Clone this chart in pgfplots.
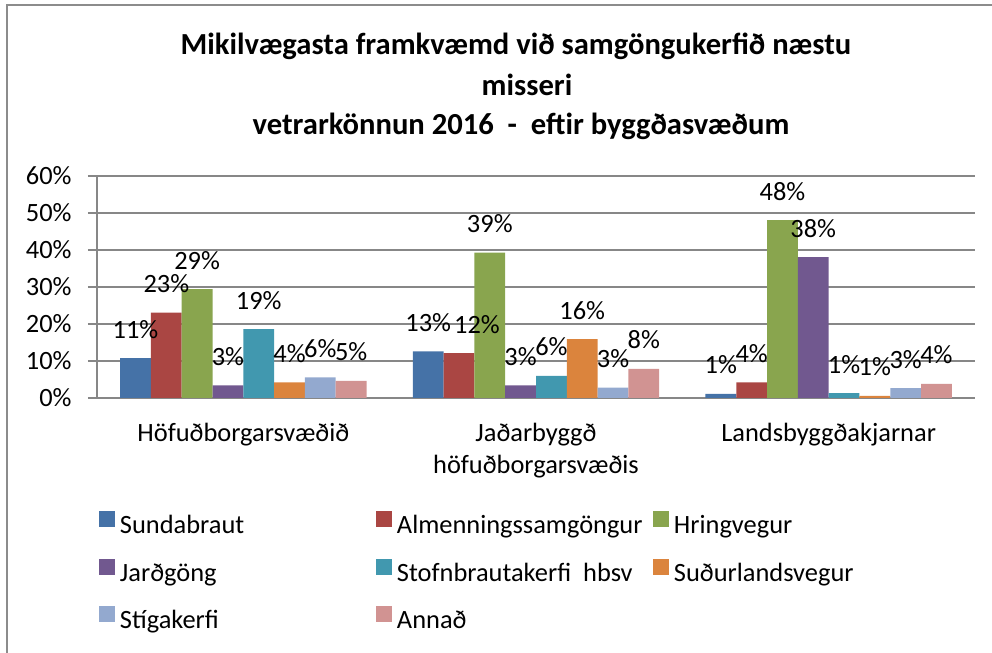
\documentclass[border=0pt]{standalone}
\usepackage{fontspec}
\setmainfont{Carlito}
\usepackage{pgfplots}
\usepackage{pgfplotstable}
\pgfplotsset{compat=1.18}

\definecolor{cSund}{HTML}{4572A7}
\definecolor{cAlm}{HTML}{AA4643}
\definecolor{cHring}{HTML}{89A54E}
\definecolor{cJard}{HTML}{71588F}
\definecolor{cStofn}{HTML}{4198AF}
\definecolor{cSud}{HTML}{DB843D}
\definecolor{cStig}{HTML}{93A9CF}
\definecolor{cAnn}{HTML}{D19392}
\definecolor{gridgray}{HTML}{878787}
\definecolor{framegray}{HTML}{8C8C8C}

% heights in percent
\pgfplotstableread{
x Sund Alm Hring Jard Stofn Sud Stig Annad
0 10.8 23.1 29.4 3.4 18.6 4.2 5.6 4.6
1 12.6 12.1 39.3 3.4 6.0 15.9 2.8 7.9
2 1.1 4.2 48.1 38.1 1.3 0.6 2.7 3.8
}\datatable

\newcommand{\lbl}[1]{\makebox[128pt][l]{#1}}
\newcommand{\bodyfont}{\fontsize{13.2}{16}\selectfont}

\begin{document}
\begin{tikzpicture}
% 1px of the reference = 0.5pt; page 496pt x 326.5pt
\path[use as bounding box] (0pt,0pt) rectangle (496pt,326.5pt);
\draw[framegray,line width=0.8pt] (3.5pt,0pt) -- (3.5pt,324pt) -- (496pt,324pt);

\node[font=\bfseries\fontsize{15.3}{18}\selectfont,anchor=base] at (258pt,299pt) {Mikilvægasta framkvæmd við samgöngukerfið næstu};
\node[font=\bfseries\fontsize{15.3}{18}\selectfont,anchor=base] at (263.5pt,278.5pt) {misseri};
\node[font=\bfseries\fontsize{15.3}{18}\selectfont,anchor=base] at (260.5pt,259pt) {vetrarkönnun 2016\ \ -\ \ eftir byggðasvæðum};

\begin{axis}[
  at={(48.5pt,127.5pt)}, anchor=south west,
  scale only axis, width=439pt, height=111pt,
  ybar=0pt, bar width=15.4pt,
  xmin=-0.5, xmax=2.5, ymin=0, ymax=60,
  axis x line*=bottom, axis y line*=left,
  axis line style={gridgray,line width=0.8pt},
  font=\bodyfont,
  /pgf/number format/assume math mode=true,
  ytick={0,10,...,60},
  yticklabel={\pgfmathprintnumber{\tick}\%},
  yticklabel style={inner sep=0pt},
  yticklabel shift=8pt,
  ymajorgrids, grid style={gridgray,line width=0.8pt},
  tick align=outside, major tick length=4.5pt,
  ytick style={gridgray,line width=0.8pt},
  xtick={0,1,2},
  xticklabels={Höfuðborgarsvæðið,{Jaðarbyggð\\höfuðborgarsvæðis},Landsbyggðakjarnar},
  xtick style={draw=none},
  xticklabel style={align=center,anchor=north,inner sep=0pt,font=\fontsize{13.2}{16}\selectfont},
  xticklabel shift=8pt,
  extra x ticks={-0.5,0.5,1.5,2.5},
  extra x tick labels={},
  extra x tick style={grid=none,tick align=outside,major tick length=4.5pt,
    tick style={draw=gridgray,line width=0.8pt}},
  nodes near coords={\pgfmathprintnumber[fixed,precision=0]{\pgfplotspointmeta}\%},
  every node near coord/.append style={anchor=base,yshift=10pt,inner sep=0pt,
    font=\bodyfont,text=black},
  legend columns=3,
  legend image code/.code={\fill[#1,draw=none] (0pt,0.3pt) rectangle (8pt,8.3pt);},
  legend style={at={(0.00228,-0.509)},anchor=north west,draw=none,fill=none,
    inner sep=0pt,outer sep=0pt,row sep=9.5pt,
    nodes={inner sep=0pt,text height=9pt,text depth=3pt,font=\bodyfont},
    /tikz/every odd column/.append style={column sep=2.5pt},
    /tikz/every even column/.append style={column sep=0pt}},
  legend cell align=left,
]
\addplot[fill=cSund,draw=none] table[x=x,y=Sund]{\datatable};
\addlegendentry{\lbl{Sundabraut}}
\addplot[fill=cAlm,draw=none,
  coordinate style/.condition={\coordindex==1}{xshift=9pt}] table[x=x,y=Alm]{\datatable};
\addlegendentry{\lbl{Almenningssamgöngur}}
\addplot[fill=cHring,draw=none] table[x=x,y=Hring]{\datatable};
\addlegendentry{\lbl{Hringvegur}}
\addplot[fill=cJard,draw=none] table[x=x,y=Jard]{\datatable};
\addlegendentry{\lbl{Jarðgöng}}
\addplot[fill=cStofn,draw=none] table[x=x,y=Stofn]{\datatable};
\addlegendentry{\lbl{Stofnbrautakerfi\ \ hbsv}}
\addplot[fill=cSud,draw=none] table[x=x,y=Sud]{\datatable};
\addlegendentry{\lbl{Suðurlandsvegur}}
\addplot[fill=cStig,draw=none] table[x=x,y=Stig]{\datatable};
\addlegendentry{\lbl{Stígakerfi}}
\addplot[fill=cAnn,draw=none] table[x=x,y=Annad]{\datatable};
\addlegendentry{\lbl{Annað}}
\end{axis}
\end{tikzpicture}
\end{document}
